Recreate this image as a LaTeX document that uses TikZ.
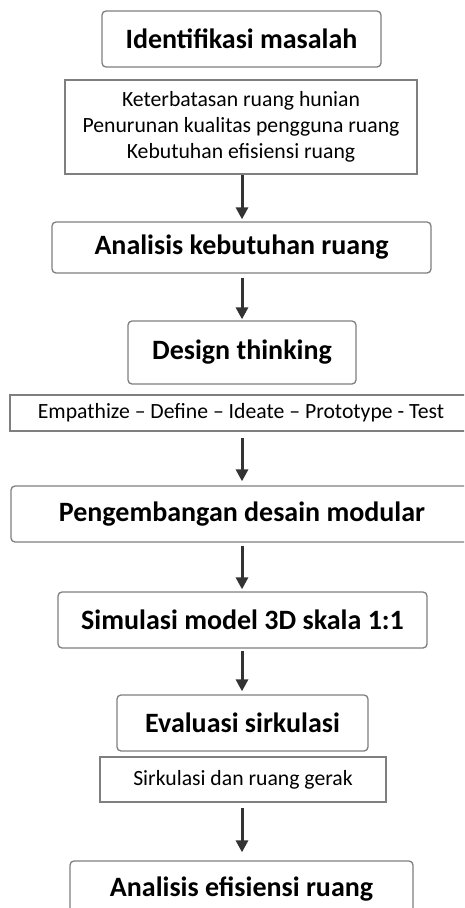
\documentclass[tikz,border=0pt]{standalone}
\usepackage{fontspec}
\setmainfont{Carlito}
\usetikzlibrary{arrows.meta}
\definecolor{boxgray}{HTML}{7F7F7F}
\definecolor{arrowdark}{HTML}{333333}
\tikzset{
  titlebox/.style={draw=boxgray, line width=1.3pt, rounded corners=4pt, fill=white,
    inner sep=0pt, align=center, font=\fontsize{28}{33}\selectfont\bfseries},
  notebox/.style={draw=boxgray, line width=1.8pt, fill=white,
    inner sep=0pt, align=center, font=\fontsize{21.7}{26}\selectfont},
  flow/.style={draw=arrowdark, line width=3pt, -{Triangle[length=12pt,width=12pt]}},
}
\begin{document}
\begin{tikzpicture}[x=1pt,y=-1pt]
\useasboundingbox (0,0) rectangle (464,908);
\clip (0,0) rectangle (464,908);
\node[titlebox, minimum width=279pt, minimum height=56pt] (b1) at (241.5,39) {Identifikasi masalah};
\node[notebox, minimum width=352pt, minimum height=94pt] (b2) at (241,127) {Keterbatasan ruang hunian\\Penurunan kualitas pengguna ruang\\Kebutuhan efisiensi ruang};
\node[titlebox, minimum width=379pt, minimum height=51pt] (b3) at (241.5,247.5) {Analisis kebutuhan ruang};
\node[titlebox, minimum width=228pt, minimum height=63pt] (b4) at (242,352.5) {Design thinking};
\node[notebox, minimum width=462pt, minimum height=36pt] (b5) at (241,413) {Empathize -- Define -- Ideate -- Prototype - Test};
\node[titlebox, minimum width=462pt, minimum height=56pt] (b6) at (242,514) {Pengembangan desain modular};
\node[titlebox, minimum width=369pt, minimum height=56pt] (b7) at (242.5,620) {Simulasi model 3D skala 1:1};
\node[titlebox, minimum width=251pt, minimum height=56pt] (b8) at (242.5,723) {Evaluasi sirkulasi};
\node[notebox, minimum width=286pt, minimum height=45pt] (b9) at (243,779.5) {Sirkulasi dan ruang gerak};
\node[titlebox, minimum width=343pt, minimum height=56pt] (b10) at (241.5,889) {Analisis efisiensi ruang};
\draw[flow, shorten >=2pt] (b2.south -| 242,0) -- (b3.north -| 242,0);
\draw[flow, shorten <=4pt, shorten >=1pt] (b3.south -| 242,0) -- (b4.north -| 242,0);
\draw[flow, shorten <=6pt, shorten >=4pt] (b5.south -| 242,0) -- (b6.north -| 242,0);
\draw[flow, shorten <=3pt, shorten >=2pt] (b6.south -| 242,0) -- (b7.north -| 242,0);
\draw[flow, shorten <=2pt, shorten >=3pt] (b7.south -| 242,0) -- (b8.north -| 242,0);
\draw[flow, shorten <=5pt, shorten >=8pt] (b9.south -| 242,0) -- (b10.north -| 242,0);
\end{tikzpicture}
\end{document}
